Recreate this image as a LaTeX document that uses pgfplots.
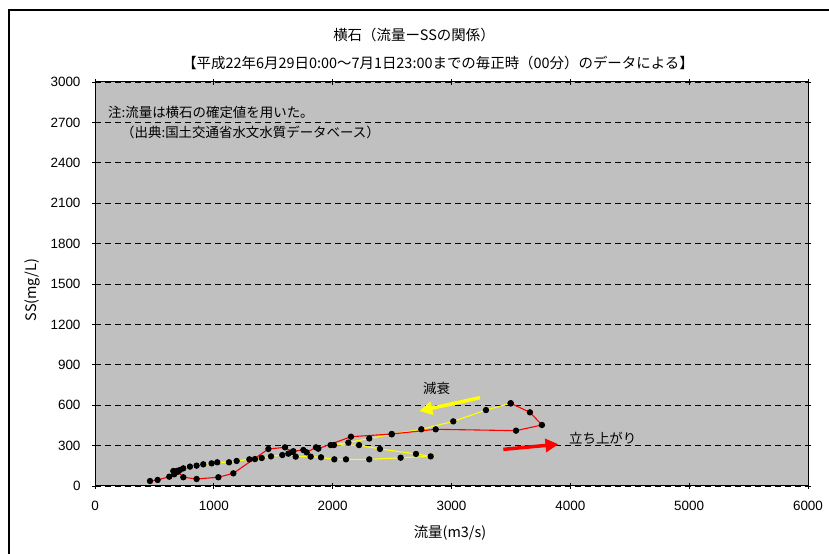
\documentclass[border=0pt]{standalone}
\usepackage{pgfplots}
\pgfplotsset{compat=1.18}
\usetikzlibrary{arrows.meta}
\usepackage{fontspec}
\setmainfont{Liberation Sans}
\newfontfamily\jp{Noto Sans CJK JP}
\definecolor{bg}{HTML}{C0C0C0}
\definecolor{yel}{HTML}{FFFF00}
\definecolor{rd}{HTML}{FF0000}
\begin{document}
\begin{tikzpicture}
\useasboundingbox (0bp,0bp) rectangle (829bp,554bp);
\draw[line width=1.3bp] (9bp,-20bp) -- (9bp,544bp) -- (850bp,544bp);
\begin{axis}[
  at={(95bp,68bp)}, anchor=south west,
  scale only axis, width=713bp, height=404bp,
  xmin=0, xmax=6000, ymin=0, ymax=3000,
  xtick={0,1000,...,6000}, ytick={0,300,...,3000},
  ymajorgrids,
  major grid style={black, line width=0.7bp, dash pattern=on 6bp off 4bp},
  axis background/.style={fill=bg},
  axis line style={black, line width=1bp},
  tick style={black, line width=0.8bp},
  tick align=center, major tick length=6bp,
  ticklabel style={font=\fontsize{13.5}{15}\selectfont},
  xticklabel style={yshift=-9bp},
  yticklabel style={xshift=-8bp},
  /pgf/number format/assume math mode=true,
  /pgf/number format/1000 sep={},
  scaled ticks=false,
  clip=false,
]
\addplot[yel, line width=1.1bp, mark=*, mark size=2.6bp, mark options={black, fill=black, solid}] coordinates {
(3498,614) (3290,564) (3015,480) (2746,421) (2497,384) (2308,353) (2132,322) (1983,304) (2011,304) (2222,304) (2398,275) (2701,238) (2825,220)
(2572,210) (2308,198) (2112,198) (2014,198) (1902,213) (1815,218) (1689,218) (1627,240) (1576,230) (1481,220) (1403,208) (1346,200) (1299,198)
(1192,186) (1128,176) (1029,176) (981,168) (911,161) (855,151) (799,144) (743,131) (715,119) (698,106) (659,111)
};
\addplot[rd, line width=1.1bp, mark=*, mark size=2.6bp, mark options={black, fill=black, solid}] coordinates {
(463,37) (527,45) (625,69) (667,87) (690,112) (743,65) (855,52) (1038,65) (1164,94) (1459,275) (1599,287) (1658,252) (1669,258)
(1753,267) (1781,250) (1860,287) (1879,277) (2154,366) (2497,386) (2867,421) (3543,411) (3761,453) (3660,547) (3498,614)
};
\draw[yel, line width=3.5bp, -{Triangle[length=13bp,width=13bp]}] (axis cs:3240,656) -- (axis cs:2729,557);
\draw[rd, line width=3.5bp, -{Triangle[length=13bp,width=13bp]}] (axis cs:3436,272) -- (axis cs:3900,310);
\node[font=\jp\fontsize{13.5}{15}\selectfont] at (axis cs:2875,725) {減衰};
\node[font=\jp\fontsize{13.5}{15}\selectfont, anchor=west] at (axis cs:3960,356) {立ち上がり};
\end{axis}
\node[font=\jp\fontsize{14.5}{16}\selectfont] at (414bp,519bp) {横石（流量ーSSの関係）};
\node[font=\jp\fontsize{14.5}{16}\selectfont] at (438bp,491bp) {【平成22年6月29日0:00～7月1日23:00までの毎正時（00分）のデータによる】};
\node[font=\jp\fontsize{13.5}{15}\selectfont, anchor=west, inner sep=0pt] at (108bp,442bp) {注:流量は横石の確定値を用いた。};
\node[font=\jp\fontsize{13.5}{15}\selectfont, anchor=west, inner sep=0pt] at (121bp,422bp) {（出典:国土交通省水文水質データベース）};
\node[font=\jp\fontsize{14.5}{16}\selectfont, rotate=90] at (32bp,264bp) {SS(mg/L)};
\node[font=\jp\fontsize{14.5}{16}\selectfont] at (450bp,21bp) {流量(m3/s)};
\end{tikzpicture}
\end{document}
